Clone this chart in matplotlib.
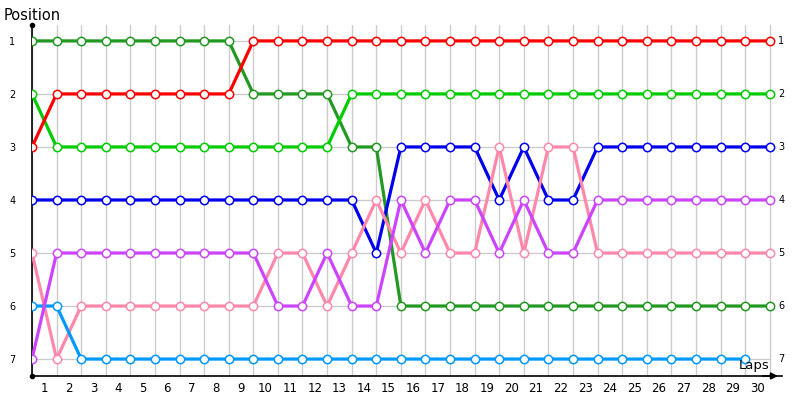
import matplotlib
matplotlib.use("Agg")
import matplotlib.pyplot as plt
import numpy as np

laps = list(range(0, 31))
lap_labels = [str(i) for i in range(1, 31)]
positions = [1, 2, 3, 4, 5, 6, 7]

dark_green = [1]*9 + [2]*4 + [3]*2 + [6]*16
bright_green = [2] + [3]*12 + [2]*18
red = [3] + [2]*8 + [1]*22
blue = [4]*14 + [5, 3, 3, 3, 3, 4, 3, 4, 4] + [3]*8
pink = [5, 7] + [6]*8 + [5, 5, 6, 5, 4, 5, 4, 5, 5, 3, 5, 3, 3] + [5]*8
purple = [7] + [5]*9 + [6, 6, 5, 6, 6, 4, 5, 4, 4, 5, 4, 5, 5] + [4]*8
light_blue = [6, 6] + [7]*28

series = [
    (dark_green, "#229922"),
    (bright_green, "#00CC00"),
    (red, "#FF0000"),
    (blue, "#0000EE"),
    (pink, "#FF88AA"),
    (light_blue, "#0099FF"),
    (purple, "#CC44FF"),
]

fig = plt.figure(figsize=(8, 4), dpi=100)
ax = fig.add_axes([32/800, 1-376/400, (782-32)/800, (376-25)/400])

ax.set_xlim(0, 30.5)
ax.set_ylim(7.32, 0.70)

for vals, col in series:
    x = laps[:len(vals)]
    ax.plot(x, vals, color=col, lw=2.3, marker="o", ms=6,
            mfc="white", mec=col, mew=1.1, solid_joinstyle="round",
            zorder=3)
    ax.text(laps[-1] + 0.35, vals[-1], str(vals[-1]), fontsize=7,
            ha="left", va="center", color="black", zorder=4)

# grid
for xv in laps:
    ax.axvline(xv, color="#CCCCCC", lw=1, zorder=1)
for yv in positions:
    ax.plot([0, 30], [yv, yv], color="#CCCCCC", lw=1, zorder=1)

for s in ["top", "right"]:
    ax.spines[s].set_visible(False)
ax.spines["left"].set_color("black")
ax.spines["bottom"].set_color("black")
ax.spines["left"].set_linewidth(1.2)
ax.spines["bottom"].set_linewidth(1.2)

ax.set_yticks(positions)
ax.set_yticklabels([str(p) for p in positions], fontsize=7)
ax.tick_params(axis="y", length=0, pad=12)
ax.set_xticks([i - 0.5 for i in range(1, 31)])
ax.set_xticklabels(lap_labels, fontsize=8.5)
ax.tick_params(axis="x", length=0, pad=4)

# axis decorations
ax.plot([0], [0.70], "o", color="black", ms=3, clip_on=False, zorder=5)
ax.plot([0], [7.32], "o", color="black", ms=3, clip_on=False, zorder=5)
ax.annotate("", xy=(30.45, 7.32), xytext=(29.6, 7.32),
            arrowprops=dict(arrowstyle="-|>", color="black", lw=1.2,
                            mutation_scale=10),
            annotation_clip=False, zorder=5)

fig.text(4/800, 1-15/400, "Position", fontsize=10.5, ha="left", va="center")
ax.text(30.0, 7.12, "Laps", fontsize=9.5, ha="right", va="center", zorder=6)

fig.savefig("out.png", dpi=100)
